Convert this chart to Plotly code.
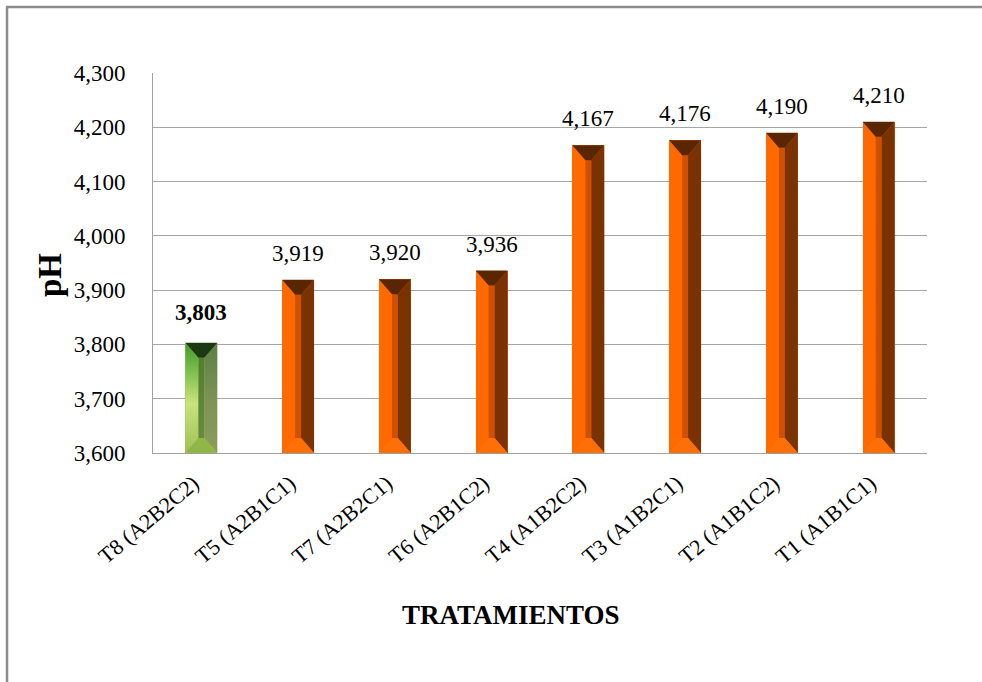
import plotly.graph_objects as go

# Treatments ordered by mean pH
categories = ["T8 (A2B2C2)", "T5 (A2B1C1)", "T7 (A2B2C1)", "T6 (A2B1C2)",
              "T4 (A1B2C2)", "T3 (A1B2C1)", "T2 (A1B1C2)", "T1 (A1B1C1)"]
ph_values = [3.803, 3.919, 3.920, 3.936, 4.167, 4.176, 4.190, 4.210]
y_ticks = [3.6, 3.7, 3.8, 3.9, 4.0, 4.1, 4.2, 4.3]
highlight = "T8 (A2B2C2)"

# Figure geometry (pixels)
FIG_W, FIG_H = 982, 682
M_L, M_R, M_T, M_B = 153, 55, 73, 229
PLOT_W = FIG_W - M_L - M_R
PLOT_H = FIG_H - M_T - M_B
Y_MIN, Y_MAX = y_ticks[0], y_ticks[-1]
X_MIN, X_MAX = -0.5, len(categories) - 0.5
PX_X = PLOT_W / (X_MAX - X_MIN)
PX_Y = PLOT_H / (Y_MAX - Y_MIN)

BAR_W = 0.33           # in category units
BEVEL_X = 13 / PX_X    # bevel inset, horizontal
BEVEL_Y = 15 / PX_Y    # bevel inset, vertical

FONT = "Liberation Serif"

orange = dict(left="#FF6A00", center="#CE5000", right="#7A3300",
              top="#592600", bottom="#FF6F08")

fig = go.Figure()

# Base bars
fig.add_trace(go.Bar(
    x=list(range(len(categories))), y=ph_values, width=BAR_W,
    marker=dict(color=["#A6C45C" if c == highlight else orange["left"] for c in categories],
                line=dict(width=0)),
    hoverinfo="skip", showlegend=False,
))


def face(xs, ys, color=None, gradient=None):
    kw = dict(x=xs + [xs[0]], y=ys + [ys[0]], mode="lines", fill="toself",
              line=dict(width=0), hoverinfo="skip", showlegend=False)
    if gradient is not None:
        kw["fillgradient"] = gradient
    else:
        kw["fillcolor"] = color
    fig.add_trace(go.Scatter(**kw))


for i, (cat, v) in enumerate(zip(categories, ph_values)):
    x0, x1 = i - BAR_W / 2, i + BAR_W / 2
    xi0, xi1 = x0 + BEVEL_X, x1 - BEVEL_X
    b, t = Y_MIN, v
    bi, ti = b + BEVEL_Y, t - BEVEL_Y
    left = ([x0, x0, xi0, xi0], [b, t, ti, bi])
    right = ([x1, x1, xi1, xi1], [b, t, ti, bi])
    top = ([x0, x1, xi1, xi0], [t, t, ti, ti])
    bottom = ([x0, x1, xi1, xi0], [b, b, bi, bi])
    center = ([xi0, xi1, xi1, xi0], [bi, bi, ti, ti])
    if cat == highlight:
        def grad(scale):
            return dict(type="vertical", start=b, stop=t, colorscale=scale)
        face(*left, gradient=grad([[0, "#9FBF55"], [0.45, "#C9E37D"],
                                   [0.72, "#82C152"], [1, "#3F9B2C"]]))
        face(*center, gradient=grad([[0, "#6D8C42"], [1, "#4C7C2C"]]))
        face(*right, gradient=grad([[0, "#8E9C5C"], [0.5, "#7C9254"], [1, "#5B7F46"]]))
        face(*bottom, color="#8EB747")
        face(*top, color="#1B3912")
    else:
        face(*center, color=orange["center"])
        face(*right, color=orange["right"])
        face(*bottom, color=orange["bottom"])
        face(*top, color=orange["top"])

# Value labels above each bar
annotations = []
for i, (cat, v) in enumerate(zip(categories, ph_values)):
    label = f"{v:.3f}".replace(".", ",")
    shift = 12
    if cat == highlight:
        label = f"<b>{label}</b>"
        shift = 16
    annotations.append(dict(
        x=i, y=v, xref="x", yref="y", text=label, showarrow=False,
        xanchor="center", yanchor="bottom", yshift=shift,
        font=dict(family=FONT, size=23, color="#000000"),
    ))

# Axis titles
annotations.append(dict(
    x=(50 - M_L) / PLOT_W, y=(FIG_H - M_B - 275) / PLOT_H, xref="paper", yref="paper",
    xanchor="center", yanchor="middle",
    text="<b>pH</b>", textangle=-90, showarrow=False,
    font=dict(family=FONT, size=33, color="#000000"),
))
annotations.append(dict(
    x=(511 - M_L) / PLOT_W, y=-(615 - (FIG_H - M_B)) / PLOT_H, xref="paper", yref="paper",
    xanchor="center", yanchor="middle",
    text="<b>TRATAMIENTOS</b>", showarrow=False,
    font=dict(family=FONT, size=27, color="#000000"),
))

# Outer frame (left and top edges)
fx = lambda px: (px - M_L) / PLOT_W
fy = lambda py: (FIG_H - M_B - py) / PLOT_H
shapes = [
    dict(type="line", xref="paper", yref="paper", x0=fx(7), x1=fx(7), y0=fy(7), y1=fy(FIG_H + 5),
         line=dict(color="#8C8C8C", width=2.5)),
    dict(type="line", xref="paper", yref="paper", x0=fx(6), x1=fx(FIG_W + 5), y0=fy(7), y1=fy(7),
         line=dict(color="#8C8C8C", width=2.5)),
]

fig.update_layout(
    width=FIG_W, height=FIG_H,
    margin=dict(l=M_L, r=M_R, t=M_T, b=M_B, autoexpand=False),
    paper_bgcolor="white", plot_bgcolor="white",
    separators=",.",
    bargap=0, barmode="overlay",
    font=dict(family=FONT, size=23, color="#000000"),
    annotations=annotations, shapes=shapes,
    xaxis=dict(
        range=[X_MIN, X_MAX], tickmode="array",
        tickvals=list(range(len(categories))), ticktext=categories,
        tickangle=-40, ticks="", showgrid=False, zeroline=False,
        showline=True, linecolor="#A0A0A0", linewidth=1,
        tickfont=dict(family=FONT, size=22), automargin=False,
        ticklabelstandoff=8, ticklabelshift=-8,
    ),
    yaxis=dict(
        range=[Y_MIN, Y_MAX], tickmode="array", tickvals=y_ticks,
        tickformat=".3f", ticks="", showgrid=True, gridcolor="#A6A6A6", gridwidth=1,
        zeroline=False, showline=True, linecolor="#A0A0A0", linewidth=1,
        tickfont=dict(family=FONT, size=23), automargin=False,
        ticklabelstandoff=22,
    ),
)

fig.write_html("out.html")
